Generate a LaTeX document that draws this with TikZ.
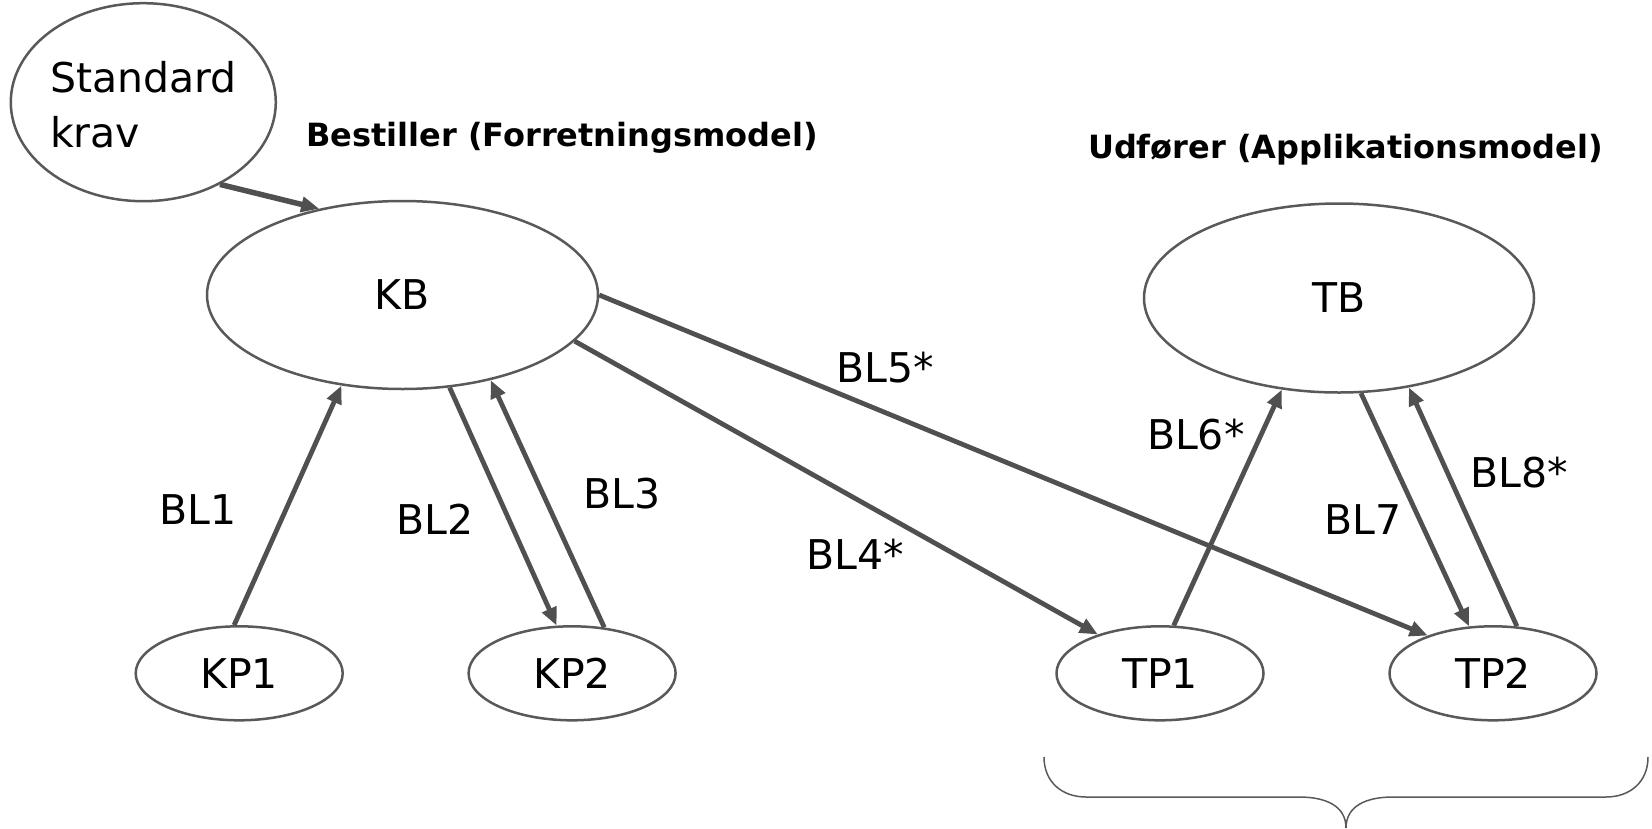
\documentclass[tikz,border=0pt]{standalone}
\usepackage{fontspec}
\setmainfont{DejaVu Sans}
\usetikzlibrary{shapes.geometric,arrows.meta}
\definecolor{linegray}{HTML}{505050}
\definecolor{edgegray}{HTML}{595959}
\begin{document}
\begin{tikzpicture}[x=1pt,y=-1pt,
  oval/.style={ellipse, draw=edgegray, line width=2.5pt, inner sep=0pt, font=\fontsize{41}{55}\selectfont},
  conn/.style={draw=linegray, line width=4.8pt, -{Triangle[length=18pt,width=15pt]}},
  lbl/.style={font=\fontsize{41}{50}\selectfont, inner sep=0pt},
  ttl/.style={font=\bfseries\fontsize{32}{38}\selectfont, inner sep=0pt}]
\useasboundingbox (0,0) rectangle (1652,828);

% nodes
\node[oval, minimum width=265pt, minimum height=198pt, align=left] (std) at (143.3,102.2) {\rule{0pt}{36pt}Standard\\krav};
\node[oval, minimum width=391pt, minimum height=188pt] (kb) at (402.5,295) {KB};
\node[oval, minimum width=390pt, minimum height=189pt] (tb) at (1339,298) {TB};
\node[oval, minimum width=207pt, minimum height=94pt] (kp1) at (239.2,673.3) {KP1};
\node[oval, minimum width=207pt, minimum height=94pt] (kp2) at (572.1,673.3) {KP2};
\node[oval, minimum width=207pt, minimum height=94pt] (tp1) at (1160,673.3) {TP1};
\node[oval, minimum width=207pt, minimum height=94pt] (tp2) at (1493,673.3) {TP2};

% titles
\node[ttl] (best) at (562,138) {Bestiller (Forretningsmodel)};
\node[ttl] (udf) at (1345.5,149.6) {Udfører (Applikationsmodel)};

% connectors
\draw[conn, line width=5.5pt] (std.-47) -- (kb.134);
\draw[conn] (kp1.96) -- (kb.236);
\draw[conn] (kb.-63.5) -- (kp2.108);
\draw[conn] (kp2.55) -- (kb.-44);
\draw[conn] (kb.-15) -- (tp1.148);
\draw[conn] (kb.0) -- (tp2.150.5);
\draw[conn] (tp1.74) -- (tb.238.5);
\draw[conn] (tb.-77) -- (tp2.117);
\draw[conn] (tp2.63) -- (tb.-52.5);

% labels
\node[lbl] (l1) at (198,510) {BL1};
\node[lbl] (l2) at (435,519.4) {BL2};
\node[lbl] (l3) at (621.6,494) {BL3};
\node[lbl] (l4) at (855.5,554) {BL4*};
\node[lbl] (l5) at (885,367.7) {BL5*};
\node[lbl] (l6) at (1195.8,435) {BL6*};
\node[lbl] (l7) at (1363.3,519.4) {BL7};
\node[lbl] (l8) at (1519.3,473) {BL8*};

% brace
\draw[edgegray, line width=1.5pt]
  (1044,757) .. controls (1044,782) and (1062,797) .. (1086,797)
  -- (1299,797) .. controls (1326,797) and (1346,806) .. (1346,828)
  .. controls (1346,806) and (1366,797) .. (1393,797)
  -- (1606,797) .. controls (1630,797) and (1648,782) .. (1648,757);
\end{tikzpicture}
\end{document}
